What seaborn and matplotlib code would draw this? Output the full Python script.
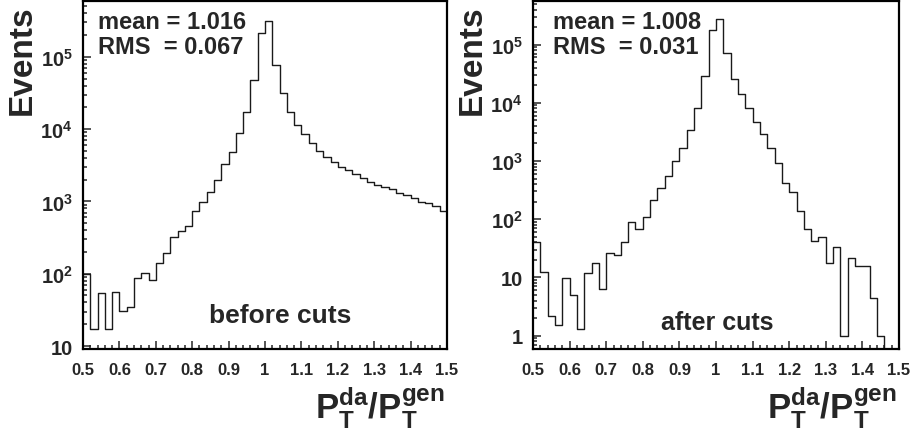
import numpy as np
import pandas as pd
import matplotlib
matplotlib.use("Agg")
import matplotlib.pyplot as plt
import seaborn as sns
from matplotlib.ticker import MultipleLocator, LogLocator, FuncFormatter, NullFormatter

# 50 bins of 0.02 between 0.50 and 1.50
n_bins = 50
x_range = (0.5, 1.5)
bin_centers = np.round(np.arange(0.51, 1.5, 0.02), 3)

# counts (log scale)
before_cuts = [100, 17, 54, 17, 55, 31, 35, 86, 102, 81,
               141, 194, 324, 387, 464, 742, 989, 1334, 1977, 3266,
               4745, 8790, 17000, 47400, 215000, 313000, 78000, 31600, 17200, 11500,
               8520, 6390, 5000, 4085, 3480, 3030, 2723, 2398, 2085, 1876,
               1686, 1600, 1469, 1292, 1225, 1101, 985, 950, 850, 730]
after_cuts = [40, 12.4, 2.2, 1.5, 9.7, 4.9, 1.3, 11.9, 18, 6.3,
              26, 24, 41, 88, 69, 110, 212, 349, 553, 1000,
              1650, 3360, 8200, 28600, 181000, 279000, 72000, 25800, 13900, 8200,
              4660, 2860, 1690, 912, 425, 294, 139, 67, 42.5, 49.8,
              18, 32.7, 1, 22, 15.8, 16, 4.5, 1, 0, 0]

stats = [("mean = 1.016", "RMS  = 0.067"), ("mean = 1.008", "RMS  = 0.031")]
notes = ["before cuts", "after cuts"]
y_limits = [(9.1, 5.9e5), (0.59, 5.6e5)]

sns.set_style("ticks")
plt.rcParams["font.family"] = ["Liberation Sans", "DejaVu Sans"]
plt.rcParams["font.weight"] = "bold"
plt.rcParams["mathtext.fontset"] = "custom"
plt.rcParams["mathtext.rm"] = "Liberation Sans:bold"
plt.rcParams["mathtext.bf"] = "Liberation Sans:bold"
plt.rcParams["mathtext.it"] = "Liberation Sans:bold"


def log_label(v, pos):
    if v <= 0:
        return ""
    e = int(round(np.log10(v)))
    if e == 0:
        return "1"
    if e == 1:
        return "10"
    return r"$\mathbf{10^{%d}}$" % e


fig = plt.figure(figsize=(9.16, 4.39), dpi=100)
ax1 = fig.add_axes([83 / 916, 89 / 439, 364 / 916, 348 / 439])
ax2 = fig.add_axes([533 / 916, 89 / 439, 366 / 916, 348 / 439])

stat_x = [0.041, 0.055]
note_pos = [(0.346, 0.078, 19), (0.35, 0.057, 18)]

for i, (ax, counts) in enumerate(zip([ax1, ax2], [before_cuts, after_cuts])):
    df = pd.DataFrame({"ratio": bin_centers, "events": counts})
    sns.histplot(data=df, x="ratio", weights="events", bins=n_bins, binrange=x_range,
                 element="step", fill=False, color="#1a1a1a", linewidth=1.0, ax=ax)
    ax.set_yscale("log")
    ax.set_xlim(*x_range)
    ax.set_ylim(*y_limits[i])

    for s in ax.spines.values():
        s.set_visible(True)
        s.set_linewidth(1.6)
        s.set_color("black")

    ax.xaxis.set_major_locator(MultipleLocator(0.1))
    ax.xaxis.set_minor_locator(MultipleLocator(0.02))
    ax.xaxis.set_major_formatter(FuncFormatter(lambda v, p: ("%g" % round(v, 2))))
    ax.yaxis.set_major_locator(LogLocator(base=10, numticks=10))
    ax.yaxis.set_minor_locator(LogLocator(base=10, subs=np.arange(2, 10), numticks=10))
    ax.yaxis.set_major_formatter(FuncFormatter(log_label))
    ax.yaxis.set_minor_formatter(NullFormatter())
    ax.tick_params(which="both", direction="in", top=False, right=False, width=1.1)
    ax.tick_params(which="major", length=6)
    ax.tick_params(which="minor", length=3)
    ax.tick_params(axis="x", pad=9.5, labelsize=12)
    ax.tick_params(axis="y", pad=7.5, labelsize=14.5)

    ax.set_ylabel("Events", fontsize=24, fontweight="bold")
    ax.yaxis.set_label_coords(-0.124, 0.99)
    ax.yaxis.label.set_horizontalalignment("right")
    ax.set_xlabel(r"$\mathbf{P_{T}^{da}/P_{T}^{gen}}$", fontsize=25)
    ax.xaxis.set_label_coords(0.995, -0.10)
    ax.xaxis.label.set_horizontalalignment("right")

    ax.text(stat_x[i], 0.975, stats[i][0], transform=ax.transAxes, va="top",
            fontsize=17, fontweight="bold")
    ax.text(stat_x[i], 0.902, stats[i][1], transform=ax.transAxes, va="top",
            fontsize=17, fontweight="bold")
    nx, ny, nsize = note_pos[i]
    ax.text(nx, ny, notes[i], transform=ax.transAxes, va="baseline",
            fontsize=nsize, fontweight="bold")

fig.savefig("out.png", dpi=100, facecolor="white")
